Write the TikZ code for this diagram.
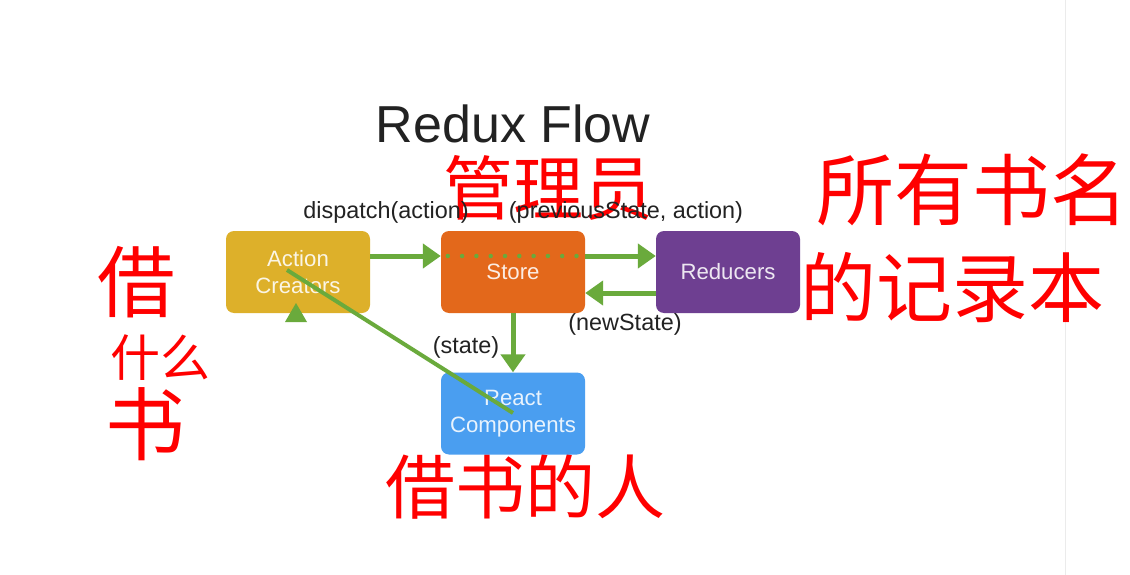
\documentclass[tikz,border=0pt]{standalone}
\usepackage{fontspec}
\setmainfont{Liberation Sans}
\newfontfamily\cjk{Noto Sans CJK SC}
\usetikzlibrary{arrows.meta}
\definecolor{gr}{HTML}{6AAA3C}
\definecolor{mustard}{HTML}{DDB02A}
\definecolor{orng}{HTML}{E3681B}
\definecolor{purp}{HTML}{6E3F91}
\definecolor{blu}{HTML}{4A9EF0}
\definecolor{ink}{HTML}{222222}
\tikzset{
  box/.style={rounded corners=8pt, minimum width=144pt, minimum height=82pt, inner sep=0pt,
    text=white, text opacity=0.88, align=center, font=\fontsize{22.2}{27}\selectfont},
  flow/.style={draw=gr, line width=5pt, -{Triangle[length=18pt,width=24pt]}},
  lbl/.style={text=ink, font=\fontsize{23.4}{26}\selectfont, inner sep=0pt},
  hand/.style={text=red, font=\cjk, inner sep=0pt}
}
\begin{document}
\begin{tikzpicture}[x=1pt,y=-1pt]
\useasboundingbox (0,0) rectangle (1130,575);
\fill[white] (0,0) rectangle (1130,575);
\draw[black!8, line width=0.8pt] (1065,0) coordinate (e1) -- (1065,575) coordinate (e2);

\node[text=ink, font=\fontsize{52}{56}\selectfont, inner sep=0pt] (title) at (513,124) {Redux Flow};

% handwritten annotations (drawn first, labels sit on top)
\node[hand, font=\cjk\fontsize{78}{80}\selectfont] (h1) at (136,282) {借};
\node[hand, font=\cjk\fontsize{50}{52}\selectfont] (h2) at (160,358) {什么};
\node[hand, font=\cjk\fontsize{80}{80}\selectfont] (h3) at (145,424) {书};
\node[hand, font=\cjk\fontsize{70}{72}\selectfont] (h4) at (548,188) {管理员};
\node[hand, font=\cjk\fontsize{78}{78}\selectfont] (h5) at (972,190) {所有书名};
\node[hand, font=\cjk\fontsize{70}{70}\selectfont] (h7) at (525,487) {借书的人};

\node[box, fill=mustard] (ac) at (298,272) {Action\\Creators};
\node[box, fill=orng] (store) at (513,272) {Store};
\node[box, fill=purp] (red) at (728,272) {Reducers};
\node[box, fill=blu] (rc) at (513,413.5) {React\\Components};

\node[hand, font=\cjk\fontsize{76}{76}\selectfont] (h6) at (952,288) {的记录本};

% arrows
\draw[flow] (ac.east|-0,256) -- (store.west|-0,256);
\draw[gr, line width=4.5pt, line cap=round, dash pattern=on 0pt off 14.3pt] ([xshift=7pt]store.west|-0,256) -- ([xshift=-4pt]store.east|-0,256);
\draw[flow] (store.east|-0,256) -- (red.west|-0,256);
\draw[flow] (red.west|-0,293) -- (store.east|-0,293);
\draw[flow] (store.south) -- (rc.north);

% triangle under Action Creators
\coordinate (tri) at (296,303);
\fill[gr] (tri) -- ++(11,19) -- ++(-22,0) -- cycle;

% diagonal line
\coordinate (d1) at (287,270);
\coordinate (d2) at (513,413);
\draw[gr, line width=4pt] (d1) -- (d2);

% labels
\node[lbl] (l1) at (386,212) {dispatch(action)};
\node[lbl] (l2) at (626,212) {(previousState, action)};
\node[lbl] (l3) at (625,324) {(newState)};
\node[lbl] (l4) at (466,347) {(state)};
\end{tikzpicture}
\end{document}
